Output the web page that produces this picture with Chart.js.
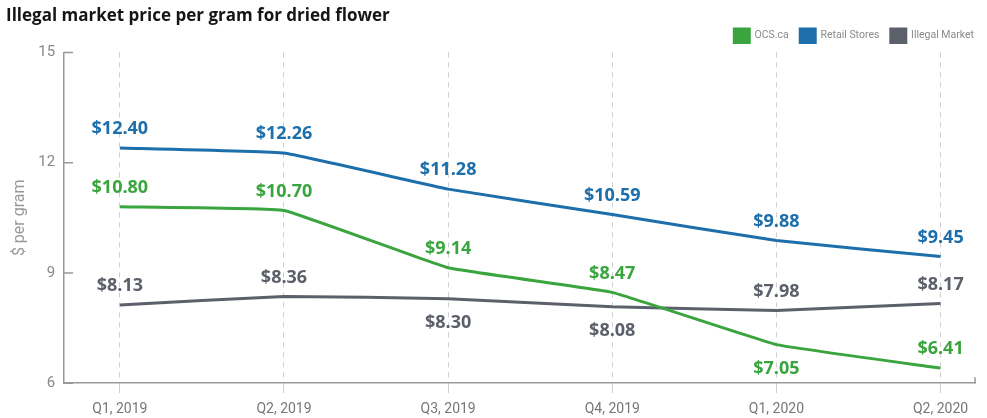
<!DOCTYPE html>
<html>
<head>
<meta charset="utf-8">
<script src="https://cdn.jsdelivr.net/npm/chart.js@4"></script>
<style>
  html, body { margin: 0; padding: 0; background: #fff; }
  #wrap { width: 987px; height: 418px; }
</style>
</head>
<body>
<div id="wrap"><canvas id="myChart"></canvas></div>
<script>
const quarters = ['Q1, 2019', 'Q2, 2019', 'Q3, 2019', 'Q4, 2019', 'Q1, 2020', 'Q2, 2020'];
const ocsValues = [10.80, 10.70, 9.14, 8.47, 7.05, 6.41];
const retailValues = [12.40, 12.26, 11.28, 10.59, 9.88, 9.45];
const illegalValues = [8.13, 8.36, 8.30, 8.08, 7.98, 8.17];
// which labels sit under the line
const ocsBelow = [false, false, false, false, true, false];
const illegalBelow = [false, false, true, true, false, false];

const green = '#3aa53e';
const blue = '#1c6fab';
const grey = '#5b606a';

// draws the "$x.xx" labels next to each point
const valueLabels = {
  id: 'valueLabels',
  afterDatasetsDraw(chart) {
    const ctx = chart.ctx;
    ctx.save();
    ctx.font = 'bold 18px "Open Sans", sans-serif';
    ctx.textAlign = 'center';
    ctx.textBaseline = 'middle';
    chart.data.datasets.forEach((ds, i) => {
      const meta = chart.getDatasetMeta(i);
      meta.data.forEach((pt, j) => {
        const below = ds.below && ds.below[j];
        ctx.fillStyle = ds.borderColor;
        ctx.fillText('$' + ds.data[j].y.toFixed(2), pt.x, pt.y + (below ? 24 : -19));
      });
    });
    ctx.restore();
  }
};

// short tick marks on the inside of the y axis
const innerTicks = {
  id: 'innerTicks',
  afterDraw(chart) {
    const ctx = chart.ctx;
    const y = chart.scales.y;
    const area = chart.chartArea;
    ctx.save();
    ctx.strokeStyle = '#999';
    ctx.lineWidth = 1.5;
    ctx.beginPath();
    y.ticks.forEach(t => {
      const py = y.getPixelForValue(t.value);
      ctx.moveTo(area.left, py);
      ctx.lineTo(area.left + 9, py);
    });
    // little upturn at the right end of the x axis
    ctx.moveTo(area.right, area.bottom);
    ctx.lineTo(area.right, area.bottom - 6);
    ctx.stroke();
    ctx.restore();
  }
};

const ctx = document.getElementById('myChart');

new Chart(ctx, {
  type: 'line',
  data: {
    labels: quarters,
    datasets: [
      { label: 'OCS.ca', data: ocsValues, borderColor: green, backgroundColor: green, below: ocsBelow },
      { label: 'Retail Stores', data: retailValues, borderColor: blue, backgroundColor: blue },
      { label: 'Illegal Market', data: illegalValues, borderColor: grey, backgroundColor: grey, below: illegalBelow }
    ].map(d => Object.assign(d, {
      data: d.data.map((v, i) => ({ x: i, y: v })),
      borderWidth: 3,
      pointRadius: 0,
      tension: 0.08
    }))
  },
  plugins: [valueLabels, innerTicks],
  options: {
    responsive: true,
    maintainAspectRatio: false,
    animation: false,
    layout: { padding: { left: 6, right: 12, top: 6, bottom: -8 } },
    plugins: {
      title: {
        display: true,
        text: 'Illegal market price per gram for dried flower',
        align: 'start',
        color: '#151515',
        font: { family: '"Open Sans", sans-serif', size: 17, weight: 'bold' },
        padding: { top: 0, bottom: 1 }
      },
      legend: {
        align: 'end',
        labels: {
          boxWidth: 15,
          boxHeight: 14,
          padding: 1,
          color: '#8a8a8a',
          font: { family: 'Roboto, sans-serif', size: 10.5 },
          // padding is tight vertically, so widen the gap between items with spaces
          generateLabels: chart => Chart.defaults.plugins.legend.labels.generateLabels(chart)
            .map((l, i, all) => Object.assign(l, { text: l.text + (i < all.length - 1 ? '    ' : '') }))
        }
      },
      tooltip: { enabled: false }
    },
    scales: {
      x: {
        type: 'linear',
        min: -0.34,
        max: 5.21,
        afterBuildTicks: s => { s.ticks = quarters.map((q, i) => ({ value: i })); },
        ticks: {
          callback: v => quarters[v],
          color: '#777',
          font: { family: 'Roboto, sans-serif', size: 14 },
          padding: 8,
          maxRotation: 0
        },
        grid: { color: '#cfcfcf', tickLength: 10 },
        border: { color: '#999', width: 1.5, dash: [5, 5] }
      },
      y: {
        min: 6,
        max: 15,
        ticks: {
          stepSize: 3,
          color: '#888',
          font: { family: 'Roboto, sans-serif', size: 15 },
          padding: 9
        },
        grid: { drawOnChartArea: false, drawTicks: false },
        border: { color: '#999', width: 1.5 },
        title: {
          display: true,
          text: '$ per gram',
          color: '#999',
          font: { family: 'Roboto, sans-serif', size: 16 },
          padding: { bottom: 0 }
        }
      }
    }
  }
});
</script>
</body>
</html>
